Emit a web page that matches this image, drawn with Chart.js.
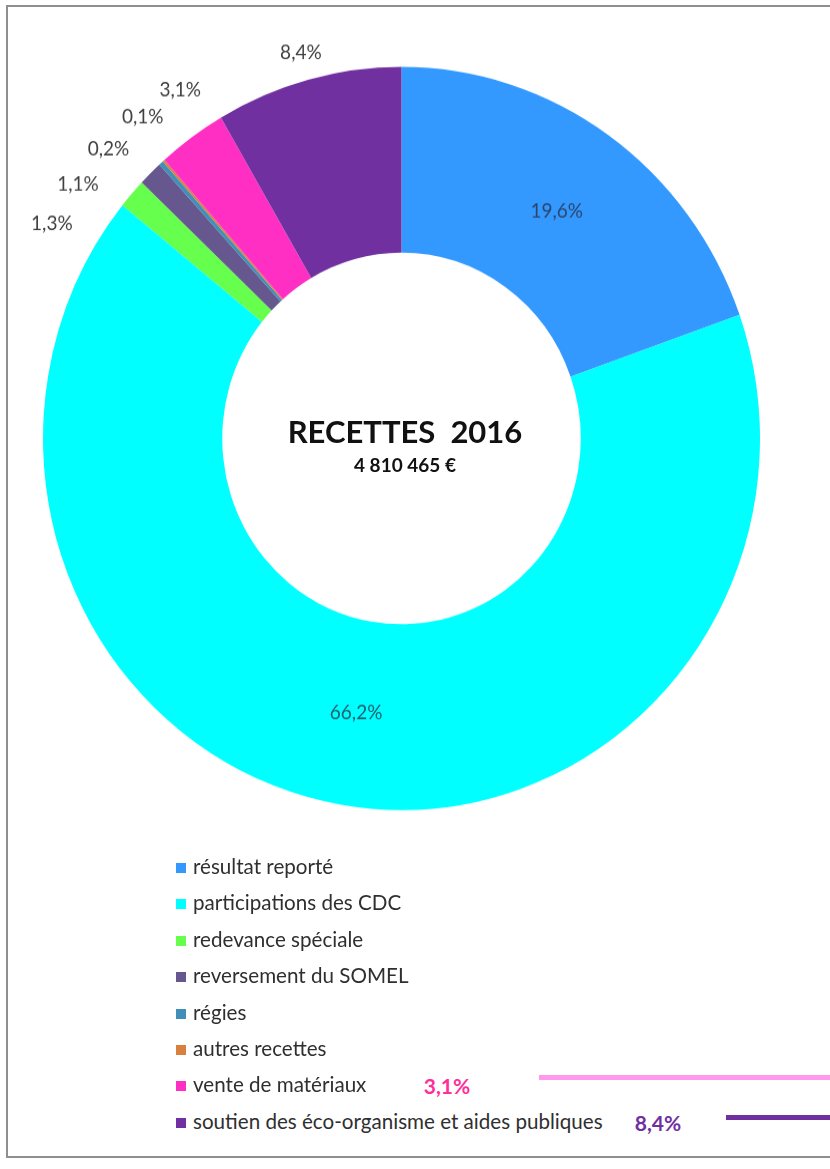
<!DOCTYPE html>
<html>
<head>
<meta charset="utf-8">
<script src="https://cdn.jsdelivr.net/npm/chart.js@4.4.1/dist/chart.umd.min.js"></script>
<style>
    html, body { margin: 0; padding: 0; background: #fff; }
    body { width: 830px; height: 1169px; position: relative; overflow: hidden; font-family: Lato, "Open Sans", sans-serif; }
    .frame { position: absolute; left: 6px; top: 5px; width: 900px; height: 1153px; border: 2px solid #8f8f8f; box-sizing: border-box; }
    .chart-wrap { position: absolute; left: 0; top: 0; width: 830px; height: 900px; transform: scaleY(1.0363); transform-origin: 0 0; }
    .center-title { position: absolute; left: 205px; width: 400px; text-align: center; font-weight: 700; color: #111; white-space: pre; }
    .legend-item { position: absolute; left: 176px; height: 24px; line-height: 24px; font-size: 20.6px; color: #2f2f2f; white-space: nowrap; }
    .legend-item span.box { display: inline-block; width: 10px; height: 10px; margin-right: 7px; vertical-align: 1px; }
    .note { position: absolute; font-weight: 700; font-size: 21px; line-height: 24px; }
    .note-line { position: absolute; height: 5px; }
</style>
</head>
<body>
<div class="frame"></div>
<div class="chart-wrap"><canvas id="pie"></canvas></div>
<div class="center-title" style="top: 412px; font-size: 31px;">RECETTES  2016</div>
<div class="center-title" style="top: 453px; font-size: 19px;" id="total"></div>
<div id="legend"></div>
<div id="notes"></div>

<script>
    // --- data ---
    const CATEGORIES = [
        'résultat reporté',
        'participations des CDC',
        'redevance spéciale',
        'reversement du SOMEL',
        'régies',
        'autres recettes',
        'vente de matériaux',
        'soutien des éco-organisme et aides publiques'
    ];
    const SHARES = [19.6, 66.2, 1.3, 1.1, 0.2, 0.1, 3.1, 8.4];
    const COLORS = ['#3399ff', '#00ffff', '#66ff4d', '#67578f', '#3f8fb8', '#d9803f', '#ff2fc4', '#7030a0'];
    const TOTAL_LABEL = '4 810 465 €';
    // the two shares highlighted under the legend
    const HIGHLIGHT = [6, 7];
    const HIGHLIGHT_TEXT = ['#ff2f9a', '#7030a0'];
    const HIGHLIGHT_LINE = ['#ff99ee', '#7030a0'];

    const pct = v => v.toFixed(1).replace('.', ',') + '%';

    document.getElementById('total').textContent = TOTAL_LABEL;

    // Legend (html)
    const legend = document.getElementById('legend');
    CATEGORIES.forEach((name, i) => {
        const row = document.createElement('div');
        row.className = 'legend-item';
        row.style.top = (854 + i * 36.4) + 'px';
        row.innerHTML = '<span class="box" style="background:' + COLORS[i] + '"></span>' + name;
        legend.appendChild(row);
    });

    // Highlight notes next to the last legend rows
    const notes = document.getElementById('notes');
    const noteX = [447, 658];
    const lineSpan = [[539, 830], [726, 830]];
    HIGHLIGHT.forEach((idx, k) => {
        const rowY = 866 + idx * 36.4;
        const t = document.createElement('div');
        t.className = 'note';
        t.style.color = HIGHLIGHT_TEXT[k];
        t.style.left = (noteX[k] - 25) + 'px';
        t.style.width = '50px';
        t.style.textAlign = 'center';
        t.style.top = (rowY - 10) + 'px';
        t.textContent = pct(SHARES[idx]);
        notes.appendChild(t);
        const ln = document.createElement('div');
        ln.className = 'note-line';
        ln.style.background = HIGHLIGHT_LINE[k];
        ln.style.left = lineSpan[k][0] + 'px';
        ln.style.width = (lineSpan[k][1] - lineSpan[k][0]) + 'px';
        ln.style.top = (rowY - 9 + k * 3) + 'px';
        notes.appendChild(ln);
    });

    // Percent labels: big slices inside, small ones outside spread apart
    const sliceLabels = {
        id: 'sliceLabels',
        afterDatasetsDraw(chart) {
            const ctx = chart.ctx;
            const arcs = chart.getDatasetMeta(0).data;
            ctx.save();
            ctx.font = '19px Lato, "Open Sans", sans-serif';
            ctx.textAlign = 'center';
            ctx.textBaseline = 'middle';

            const outside = [];
            arcs.forEach((arc, i) => {
                const p = arc.getProps(['x', 'y', 'startAngle', 'endAngle', 'innerRadius', 'outerRadius'], true);
                const mid = (p.startAngle + p.endAngle) / 2;
                const text = pct(SHARES[i]);
                if (SHARES[i] > 10) {
                    const r = (p.innerRadius + p.outerRadius) / 2;
                    ctx.fillStyle = 'rgba(40,40,60,0.75)';
                    ctx.fillText(text, p.x + r * Math.cos(mid), p.y + r * Math.sin(mid));
                } else {
                    outside.push({ text, angle: mid, natural: mid, p });
                }
            });

            // relax angles so neighbouring labels don't overlap
            // (pushes a bit more away from the top, like excel does)
            outside.sort((a, b) => a.angle - b.angle);
            const minSep = 6.5 * Math.PI / 180;
            for (let it = 0; it < 300; it++) {
                for (let j = 0; j < outside.length - 1; j++) {
                    const gap = outside[j + 1].angle - outside[j].angle;
                    if (gap < minSep) {
                        const d = minSep - gap;
                        outside[j].angle -= d * 0.65;
                        outside[j + 1].angle += d * 0.35;
                    }
                }
            }
            // labels in a crowded group sit a bit further out
            outside.forEach((o, j) => {
                const prev = outside[j - 1], next = outside[j + 1];
                const near = (prev && o.natural - prev.natural < minSep * 1.5) ||
                             (next && next.natural - o.natural < minSep * 1.5);
                o.gap = near ? 26 : 14;
            });

            ctx.fillStyle = '#404040';
            outside.forEach(o => {
                const w = ctx.measureText(o.text).width;
                const c = Math.cos(o.angle), s = Math.sin(o.angle);
                const extent = (w / 2) * Math.abs(c) + 8 * Math.abs(s);
                const r = o.p.outerRadius + o.gap + extent;
                ctx.fillText(o.text, o.p.x + r * c, o.p.y + r * s);
            });
            ctx.restore();
        }
    };

    new Chart(document.getElementById('pie').getContext('2d'), {
        type: 'doughnut',
        data: {
            labels: CATEGORIES,
            datasets: [{
                data: SHARES,
                backgroundColor: COLORS,
                borderWidth: 0
            }]
        },
        options: {
            responsive: true,
            maintainAspectRatio: false,
            animation: false,
            cutout: '50%',
            layout: { padding: { left: 43, right: 70, top: 64.6, bottom: 118.4 } },
            plugins: {
                legend: { display: false },
                tooltip: { enabled: false }
            }
        },
        plugins: [sliceLabels]
    });
</script>
</body>
</html>
